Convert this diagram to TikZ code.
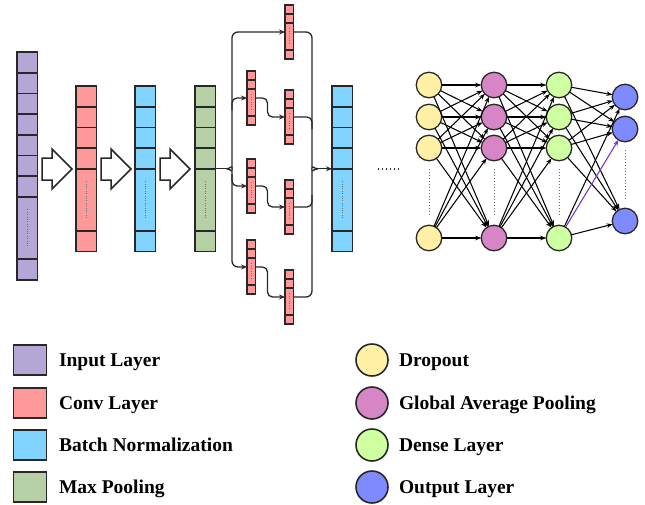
\documentclass[tikz,border=0pt]{standalone}
\usepackage{fontspec}
\setmainfont{Liberation Serif}
\usetikzlibrary{arrows.meta,calc}

\definecolor{cInput}{RGB}{180,167,214}
\definecolor{cConv}{RGB}{255,153,153}
\definecolor{cBN}{RGB}{128,212,255}
\definecolor{cMP}{RGB}{182,208,166}
\definecolor{cDrop}{RGB}{255,240,165}
\definecolor{cGAP}{RGB}{214,134,196}
\definecolor{cDense}{RGB}{206,255,160}
\definecolor{cOut}{RGB}{128,138,255}
\definecolor{cEdge}{RGB}{40,40,40}
\definecolor{cViolet}{RGB}{110,50,210}

\tikzset{
 colbox/.style={draw=cEdge, line width=1.6pt, rectangle, inner sep=0pt, outer sep=0pt},
 cellline/.style={draw=cEdge, line width=1.6pt},
 dotline/.style={draw=cEdge!65, line width=0.9pt, dash pattern=on 0.9pt off 1.5pt},
 nndots/.style={draw=cEdge!70, line width=1pt, dash pattern=on 1pt off 2pt},
 conn/.style={draw=cEdge, line width=1.3pt},
 tip/.style={-{Stealth[length=6pt,width=5pt]}},
 neuron/.style={circle, draw=cEdge, line width=1.3pt, minimum size=25.5pt, inner sep=0pt, outer sep=0pt},
 nnedge/.style={draw=black, line width=1.05pt, -{Stealth[length=6pt,width=4.5pt]}},
 hollow/.style={draw=cEdge, fill=white, line width=1.5pt, line join=miter},
 legtext/.style={font=\fontsize{19.5}{22}\selectfont\bfseries, anchor=base west, inner sep=0pt},
 legbox/.style={draw=cEdge, line width=1.6pt, minimum width=33pt, minimum height=30pt, inner sep=0pt},
 legdot/.style={circle, draw=cEdge, line width=1.6pt, minimum size=32pt, inner sep=0pt},
}

% name, xleft, ytop, width, unit, ncells, fill
\newcommand\layercol[7]{%
 \node[colbox, fill=#7, minimum width=#4pt, minimum height={(#6+4)*#5*1pt}, anchor=north west] (#1) at (#2,#3) {};
 \foreach \k in {1,...,#6}{\draw[cellline] ([yshift={-\k*#5*1pt}]#1.north west) -- ([yshift={-\k*#5*1pt}]#1.north east);}
 \draw[cellline] ([yshift={-(#6+3)*#5*1pt}]#1.north west) -- ([yshift={-(#6+3)*#5*1pt}]#1.north east);
 \draw[dotline] ([yshift={-(#6+0.6)*#5*1pt}]#1.north) -- ([yshift={-(#6+2.4)*#5*1pt}]#1.north);
}

\begin{document}
\begin{tikzpicture}[x=1pt,y=-1pt]
\useasboundingbox (0,0) rectangle (645,504);

% main columns
\layercol{inp}{17}{52}{20.5}{20.7}{7}{cInput}
\layercol{conv}{76}{86}{20.5}{20.7}{4}{cConv}
\layercol{bnA}{135}{86}{20.5}{20.7}{4}{cBN}
\layercol{mp}{195}{86}{20.5}{20.7}{4}{cMP}
\layercol{bnB}{332}{86}{20.5}{20.7}{4}{cBN}

% inception small conv columns
\layercol{a1}{285}{5}{8.5}{9}{2}{cConv}
\layercol{a2}{285}{90}{8.5}{9}{2}{cConv}
\layercol{a3}{285}{180}{8.5}{9}{2}{cConv}
\layercol{a4}{285}{270}{8.5}{9}{2}{cConv}
\layercol{b1}{247}{71}{8.5}{9}{2}{cConv}
\layercol{b2}{247}{159}{8.5}{9}{2}{cConv}
\layercol{b3}{247}{240}{8.5}{9}{2}{cConv}

% hollow arrows
\draw[hollow] (42,158) -- (52,158) -- (52,149) -- (72,169) -- (52,189) -- (52,180) -- (42,180) -- cycle;
\draw[hollow] (101,158) -- (111,158) -- (111,149) -- (131,169) -- (111,189) -- (111,180) -- (101,180) -- cycle;
\draw[hollow] (160,158) -- (170,158) -- (170,149) -- (190,169) -- (170,189) -- (170,180) -- (160,180) -- cycle;

% inception connectors
\coordinate (sx) at (232,0);
\coordinate (mx) at (312,0);
\coordinate (splitc) at ($(mp.east)+(11,0)$);
\coordinate (mergec) at ($(bnB.west)+(-14,0)$);
\draw[conn] (mp.east) -- (splitc);
\draw[conn, tip, rounded corners=6pt] (splitc) to[out=0,in=-90] ($(splitc -| sx)+(0,-7)$) -- (sx |- a1.west) -- (a1.west);
\draw[conn, tip, rounded corners=6pt] (splitc) to[out=0,in=90] ($(splitc -| sx)+(0,7)$) -- (sx |- b3.west) -- (b3.west);
\draw[conn, tip, rounded corners=5pt] ($(sx |- b1.west)+(0,12)$) -- (sx |- b1.west) -- (b1.west);
\draw[conn, tip, rounded corners=5pt] ($(sx |- b2.west)+(0,-12)$) -- (sx |- b2.west) -- (b2.west);

\draw[conn, tip, rounded corners=5pt] (b1.east) -- ++(12,0) |- (a2.west);
\draw[conn, tip, rounded corners=5pt] (b2.east) -- ++(12,0) |- (a3.west);
\draw[conn, tip, rounded corners=5pt] (b3.east) -- ++(12,0) |- (a4.west);

\draw[conn, rounded corners=6pt] (a1.east) -| ($(mergec -| mx)+(0,-7)$) to[out=-90,in=180] (mergec);
\draw[conn, rounded corners=6pt] (a4.east) -| ($(mergec -| mx)+(0,7)$) to[out=90,in=180] (mergec);
\draw[conn, rounded corners=5pt] (a2.east) -| ($(a2.east -| mx)+(0,12)$);
\draw[conn, rounded corners=5pt] (a3.east) -| ($(a3.east -| mx)+(0,-12)$);
\draw[conn, tip] (mergec) -- (bnB.west);

% ellipsis
\draw[cEdge, line width=1.4pt, dash pattern=on 1.3pt off 2.7pt] ($(bnB.east)+(25,0)$) -- ++(21,0);

% dense network
\foreach \n/\yy in {1/85,2/117,3/148,4/238} {
 \node[neuron, fill=cDrop] (d\n) at (429,\yy) {};
 \node[neuron, fill=cGAP] (g\n) at (494,\yy) {};
 \node[neuron, fill=cDense] (e\n) at (559,\yy) {};
}
\foreach \n/\yy in {1/97,2/129,3/221} {\node[neuron, fill=cOut] (o\n) at (625,\yy) {};}

\foreach \i in {1,...,4} {\foreach \j in {1,...,4} {\draw[nnedge] (d\i) -- (g\j); \draw[nnedge] (g\i) -- (e\j);}}
\foreach \i in {1,...,3} {\foreach \j in {1,...,3} {\draw[nnedge] (e\i) -- (o\j);}}
\draw[nnedge] (e4) -- (o1);
\draw[nnedge] (e4) -- (o3);
\draw[nnedge, draw=cViolet] (e4) -- (o2);

\foreach \c in {d,g,e} {\draw[nndots] ($(\c3.south)+(0,8)$) -- ($(\c4.north)+(0,-9)$);}
\draw[nndots] ($(o2.south)+(0,8)$) -- ($(o3.north)+(0,-10)$);

% legend
\node[legbox, fill=cInput] (lin) at (30,360) {};
\node[legbox, fill=cConv] (lcv) at (30,403) {};
\node[legbox, fill=cBN] (lbn) at (30,445) {};
\node[legbox, fill=cMP] (lmp) at (30,487) {};
\node[legtext] (tin) at ($(lin.east)+(11.5,6.5)$) {Input Layer};
\node[legtext] (tcv) at ($(lcv.east)+(11.5,6.5)$) {Conv Layer};
\node[legtext] (tbn) at ($(lbn.east)+(11.5,6.5)$) {Batch Normalization};
\node[legtext] (tmp) at ($(lmp.east)+(11.5,6.5)$) {Max Pooling};

\node[legdot, fill=cDrop] (ldr) at (372,360) {};
\node[legdot, fill=cGAP] (lgp) at (372,403) {};
\node[legdot, fill=cDense] (lds) at (372,445) {};
\node[legdot, fill=cOut] (lou) at (372,487) {};
\node[legtext] (tdr) at ($(ldr.east)+(10,6.5)$) {Dropout};
\node[legtext] (tgp) at ($(lgp.east)+(10,6.5)$) {Global Average Pooling};
\node[legtext] (tds) at ($(lds.east)+(10,6.5)$) {Dense Layer};
\node[legtext] (tou) at ($(lou.east)+(10,6.5)$) {Output Layer};
\end{tikzpicture}
\end{document}
